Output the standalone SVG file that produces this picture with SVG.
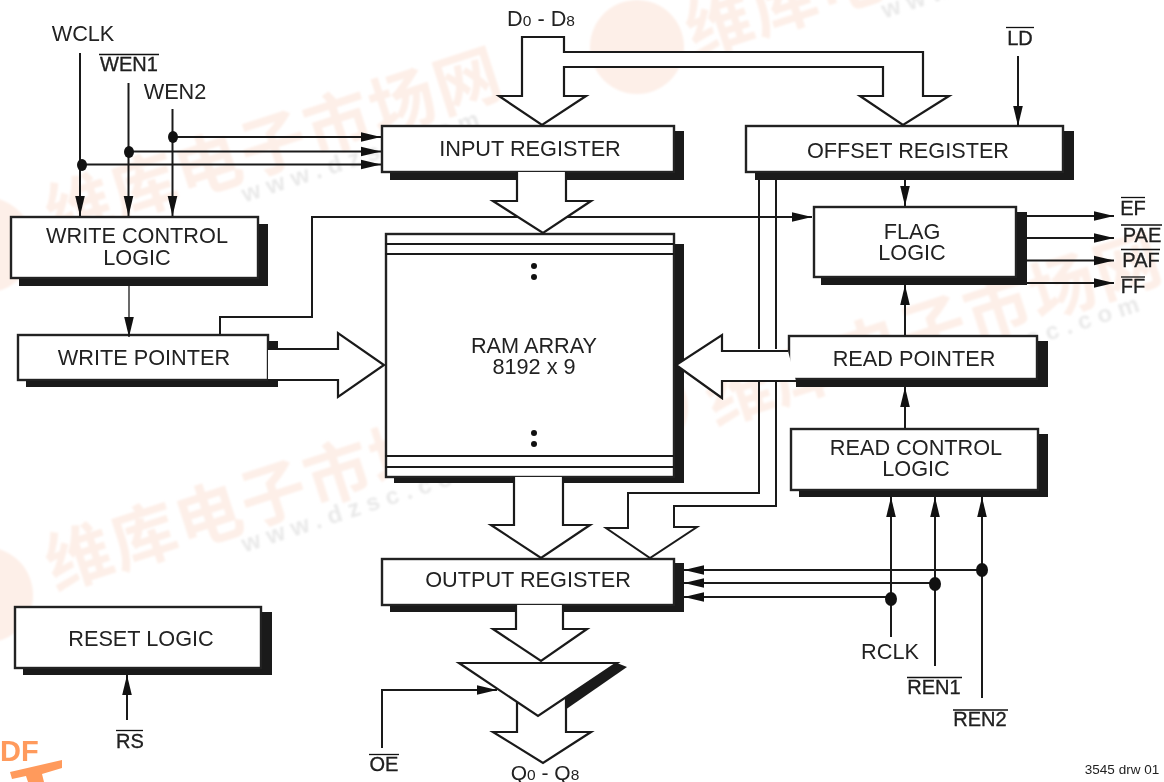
<svg xmlns="http://www.w3.org/2000/svg" width="1164" height="782" viewBox="0 0 1164 782">
<style>
text{font-family:"Liberation Sans",Arial,sans-serif;font-size:21.700px;fill:#222;text-anchor:middle}
.box{fill:#fff;stroke:#222;stroke-width:2.400}
.sh{fill:#1a1a1a}
.bus{fill:#fff;stroke:#1a1a1a;stroke-width:2.200;stroke-linejoin:miter}
.w{fill:none;stroke:#1a1a1a;stroke-width:2}
.t{fill:none;stroke:#1a1a1a;stroke-width:1.300}
.a{marker-end:url(#ah)}
.bar{stroke:#111;stroke-width:1.300}
.ov{stroke:#111;stroke-width:.3;font-size:20px}
.d{fill:#111}
.wc{font-family:"Noto Sans CJK SC",sans-serif;font-weight:700;font-size:66px;letter-spacing:2px;fill:#fdefe8;text-anchor:start}
.wu{font-family:"Liberation Sans",sans-serif;font-weight:700;font-size:24px;letter-spacing:7px;fill:#e9e9e9;text-anchor:start}
.lg{fill:#fdefe8}
</style>
<defs>
<marker id="ah" markerUnits="userSpaceOnUse" markerWidth="20" markerHeight="12" refX="20" refY="6" orient="auto"><path d="M0 1.200L20 6L0 10.800Z" fill="#111"/></marker>
<filter id="soft" x="-5%" y="-5%" width="110%" height="110%"><feGaussianBlur stdDeviation="1"/></filter>
<g id="wm" transform="rotate(-18)"><text class="wc" x="0" y="0">维库电子市场网</text><text class="wu" x="192" y="23">www.dzsc.com</text></g>
</defs>
<rect width="1164" height="782" fill="#fff"/>
<g id="watermark">
<g filter="url(#soft)">
<use href="#wm" transform="translate(55 240)"/>
<use href="#wm" transform="translate(55 590)"/>
<use href="#wm" transform="translate(695 56)"/>
<use href="#wm" transform="translate(715 425)"/>
<circle class="lg" cx="-15" cy="245" r="48"/><circle class="lg" cx="-15" cy="595" r="48"/>
<circle class="lg" cx="637" cy="47" r="47"/><circle class="lg" cx="640" cy="408" r="48"/>
</g>
<text x="0" y="761" style="font-size:29px;font-weight:700;fill:#ff9a5c;text-anchor:start">DF</text>
<path d="M10 772L62 760L62 768L42 774L44 782L28 782L26 776L12 779Z" fill="#ff9a5c"/>
</g>
<g id="node-write-control"><rect class="sh" x="19" y="224" width="249" height="62"/><rect class="box" x="11" y="217" width="247" height="61"/><text x="137" y="243">WRITE CONTROL</text><text x="137" y="265">LOGIC</text></g>
<g id="node-write-pointer"><rect class="sh" x="26" y="341" width="252" height="46"/><rect class="box" x="18" y="335" width="250" height="45"/><text x="144" y="365">WRITE POINTER</text></g>
<g id="node-input-register"><rect class="sh" x="390" y="131" width="294" height="49"/><rect class="box" x="382" y="126" width="292" height="46"/><text x="530" y="156">INPUT REGISTER</text></g>
<g id="node-offset-register"><rect class="sh" x="755" y="131" width="319" height="49"/><rect class="box" x="746" y="126" width="317" height="46"/><text x="908" y="158">OFFSET REGISTER</text></g>
<g id="node-flag-logic"><rect class="sh" x="821" y="212" width="206" height="73"/><rect class="box" x="814" y="207" width="202" height="70"/><text x="912" y="239">FLAG</text><text x="912" y="260">LOGIC</text></g>
<g id="node-read-pointer"><rect class="sh" x="796" y="341" width="252" height="46"/><rect class="box" x="789" y="336" width="248" height="43"/><text x="914" y="366">READ POINTER</text></g>
<g id="node-read-control"><rect class="sh" x="799" y="434" width="249" height="63"/><rect class="box" x="791" y="429" width="247" height="61"/><text x="916" y="455">READ CONTROL</text><text x="916" y="476">LOGIC</text></g>
<g id="node-ram-array"><rect class="sh" x="394" y="244" width="290" height="239"/><rect class="box" x="386" y="234" width="288" height="243"/><path class="w" d="M385 244H674M385 254H674M385 456H674M385 467H674"/><text x="534" y="353">RAM ARRAY</text><text x="534" y="374">8192 x 9</text><circle class="d" cx="534" cy="266" r="3"/><circle class="d" cx="534" cy="277" r="3"/><circle class="d" cx="534" cy="433" r="3"/><circle class="d" cx="534" cy="444" r="3"/></g>
<g id="node-output-register"><rect class="sh" x="390" y="563" width="294" height="49"/><rect class="box" x="382" y="559" width="292" height="46"/><text x="528" y="587">OUTPUT REGISTER</text></g>
<g id="node-reset-logic"><rect class="sh" x="23" y="612" width="249" height="63"/><rect class="box" x="15" y="607" width="246" height="61"/><text x="141" y="646">RESET LOGIC</text></g>
<g id="connectors">
<path class="w a" d="M80 53V216"/><path class="w a" d="M128.500 83V216"/><path class="w a" d="M172.500 109V216"/>
<path class="w a" d="M82 164.500H381"/><path class="w a" d="M129 151.500H381"/><path class="w a" d="M173 137H381"/>
<path class="t a" d="M129 286V337"/>
<path class="w" d="M220 334V317H312V217H518M562 217H770"/><path class="w a" d="M770 217H812"/>
<path class="bus" d="M522 37H564V52H923V96H949L903 125L860 96H883V67H564V96H586L542 125L499 96H522Z"/>
<path class="bus" d="M517 172V201H493L543 233L591 201H566V172"/>
<path class="bus" d="M268 349H338V333L384 365L338 397V380H268"/>
<path class="bus" d="M788 351H722V335L676 365L722 398V381H796"/>
<path class="bus" d="M514 477V525H491L541 558L590 525H563V477"/>
<path class="bus" d="M516 605V629H493L541 661L587 629H563V605"/>
<path class="bus" d="M517 697V732H493L543 763L591 732H566V697"/>
<path class="w" d="M759 180V349M776 180V349M776 381V506H674V527H697L650 558L606 528H628V493H759V381"/>
<path class="w a" d="M382 748V690H497"/>
<path class="w a" d="M1018 56V126"/><path class="w a" d="M905 180V206"/><path class="w a" d="M905 335V285"/><path class="w a" d="M905 428V387"/>
<path class="w a" d="M1027 216H1114"/><path class="w a" d="M1027 238H1114"/><path class="w a" d="M1027 260.500H1114"/><path class="w a" d="M1027 283H1114"/>
<path class="w a" d="M982 570H684"/><path class="w a" d="M935 583H684"/><path class="w a" d="M891 597H684"/>
<path class="w a" d="M891 637V497"/><path class="w a" d="M935 666V497"/><path class="w a" d="M982 698V497"/>
<path class="w a" d="M127 720V675"/>
<ellipse class="d" cx="82" cy="165" rx="5" ry="6"/><ellipse class="d" cx="129" cy="152" rx="5" ry="6"/><ellipse class="d" cx="173" cy="137" rx="5" ry="6"/>
<ellipse class="d" cx="891" cy="599" rx="6" ry="7"/><ellipse class="d" cx="935" cy="584" rx="6" ry="7"/><ellipse class="d" cx="982" cy="570" rx="6" ry="7"/>
</g>
<g id="node-tristate"><path class="sh" d="M617 663L627 667L565 710V697Z"/><path class="bus" d="M459 663H617L538 716Z"/></g>
<g id="labels">
<text x="83" y="41">WCLK</text>
<text x="129" y="71" class="ov">WEN1</text><path class="bar" d="M99 54.500H159"/>
<text x="175" y="99">WEN2</text>
<text x="541" y="26">D<tspan font-size="15.500">0</tspan> - D<tspan font-size="15.500">8</tspan></text>
<text x="1020" y="44.500" class="ov">LD</text><path class="bar" d="M1006 27.500H1034"/>
<text x="1133" y="215" class="ov">EF</text><path class="bar" d="M1121 197.500H1145"/>
<text x="1142" y="242" class="ov">PAE</text><path class="bar" d="M1121 225H1162"/>
<text x="1141" y="267" class="ov">PAF</text><path class="bar" d="M1121 249.500H1160"/>
<text x="1133" y="293" class="ov">FF</text><path class="bar" d="M1121 277H1145"/>
<text x="890" y="659">RCLK</text>
<text x="934" y="694" class="ov">REN1</text><path class="bar" d="M907 677.500H962"/>
<text x="980" y="726" class="ov">REN2</text><path class="bar" d="M953 710H1008"/>
<text x="130" y="748" class="ov">RS</text><path class="bar" d="M116 730.500H143"/>
<text x="384" y="771" class="ov">OE</text><path class="bar" d="M369 754.500H399"/>
<text x="545" y="780" style="font-size:21px">Q<tspan font-size="15.500">0</tspan> - Q<tspan font-size="15.500">8</tspan></text>
<text x="1122" y="774" style="font-size:13.500px">3545 drw 01</text>
</g>
</svg>
